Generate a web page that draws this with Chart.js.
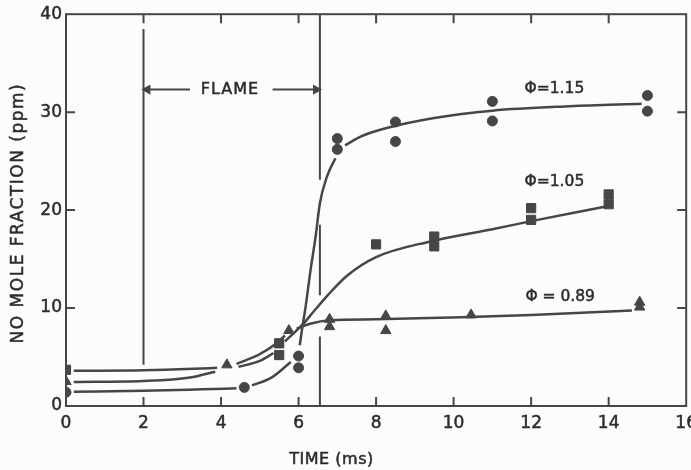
<!DOCTYPE html>
<html>
<head>
<meta charset="utf-8">
<script src="https://cdn.jsdelivr.net/npm/chart.js@4.4.1/dist/chart.umd.min.js"></script>
<style>
  html, body { margin: 0; padding: 0; background: #fcfcfb; overflow: hidden; }
  #wrap { width: 704px; height: 470px; }
</style>
</head>
<body>
<div id="wrap"><canvas id="chart"></canvas></div>
<script>
// ===== DATA =====

// measured points, phi = 1.15 / 1.05 / 0.89
const circleX = [0, 4.6, 6.0, 6.0, 7.0, 7.0, 8.5, 8.5, 11.0, 11.0, 15.0, 15.0];
const circleY = [1.4, 1.9, 5.1, 3.9, 27.3, 26.2, 29.0, 27.0, 31.1, 29.1, 31.7, 30.1];

const squareX = [0, 5.5, 5.5, 8.0, 9.5, 9.5, 12.0, 12.0, 14.0, 14.0];
const squareY = [3.7, 6.4, 5.2, 16.5, 17.3, 16.3, 20.2, 19.0, 21.6, 20.6];

const triangleX = [0, 4.15, 5.75, 6.8, 6.8, 8.25, 8.25, 10.45, 14.8, 14.8];
const triangleY = [2.5, 4.2, 7.7, 8.85, 8.1, 9.2, 7.7, 9.3, 10.6, 10.1];

// hand drawn curves (null = break round a marker)
const curve115X = [0.2, 2, 3.5, 4.4, 4.6, 4.8, 5.3, 5.8, 5.95, 6.03, 6.1, 6.18, 6.31, 6.44, 6.55, 6.73, 6.95, 7.05, 7.2, 7.6, 8.2, 9.5, 11, 13, 14.85];
const curve115Y = [1.45, 1.55, 1.7, 1.8, null, 2.1, 2.9, 4.5, null, 6.2, 8.1, 10.1, 13.9, 17.3, 20.7, 23.4, 25.3, null, 26.6, 27.5, 28.3, 29.4, 30.15, 30.6, 30.85];

const curve105X = [0.2, 2, 3.3, 3.9, 4.1, 4.45, 5.0, 5.35, 5.5, 5.65, 6.1, 6.4, 6.75, 7.25, 8.0, 9.4, 11, 12.1, 13.9];
const curve105Y = [3.6, 3.65, 3.8, 3.9, null, 4.0, 4.6, 5.4, null, 6.6, 8.3, 9.7, 11.3, 13.3, 15.2, 16.8, 18.05, 18.95, 20.35];

const curve089X = [0.2, 2, 3.2, 3.85, 4.1, 4.4, 5.0, 5.4, 5.65, 5.75, 5.95, 6.3, 6.8, 8.0, 10.2, 12, 14.6];
const curve089Y = [2.45, 2.55, 2.9, 3.5, null, 4.3, 5.3, 6.3, 7.2, null, 7.9, 8.4, 8.75, 8.85, 9.05, 9.3, 9.75];

// flame zone boundaries and arrow
const flameLeftX = [2, 2];
const flameLeftY = [4.2, 38.5];
const flameRightX = [6.55, 6.55, 6.55, 6.55, 6.55, 6.55, 6.55, 6.55];
const flameRightY = [40, 23.1, null, 18.5, 11.3, null, 7.1, 0];
const arrowX = [2.1, 3.2, 4.3, 5.33, 6.45];
const arrowY = [32.3, 32.3, null, 32.3, 32.3];

// text in the plot
const noteText = ["FLAME", "\u03A6=1.15", "\u03A6=1.05", "\u03A6 = 0.89"];
const noteX = [4.23, 12.6, 12.6, 12.75];
const noteY = [32.3, 32.35, 22.9, 11.15];

const xTitle = "TIME (ms)";
const yTitle = "NO MOLE FRACTION (ppm)";

// ===== STYLE =====

const ink = "#464646";
const textInk = "#2c2c2c";
const font = "'DejaVu Sans', sans-serif";

function pts(xs, ys) {
  return xs.map((x, i) => ({ x, y: ys[i] }));
}

function curve(xs, ys) {
  return {
    data: pts(xs, ys),
    showLine: true,
    borderColor: ink,
    borderWidth: 2.5,
    pointRadius: 0,
    cubicInterpolationMode: "monotone",
    spanGaps: false
  };
}

function straight(xs, ys) {
  return {
    data: pts(xs, ys),
    showLine: true,
    borderColor: ink,
    borderWidth: 2,
    pointRadius: 0,
    tension: 0,
    spanGaps: false
  };
}

function markers(xs, ys, style, radius) {
  return {
    data: pts(xs, ys),
    showLine: false,
    pointStyle: style,
    pointRadius: radius,
    pointBackgroundColor: ink,
    pointBorderColor: ink,
    pointBorderWidth: 1
  };
}

const arrow = straight(arrowX, arrowY);
arrow.pointStyle = "triangle";
arrow.pointRadius = [4, 0, 0, 0, 4];
arrow.pointRotation = [-90, 0, 0, 0, 90];
arrow.pointBackgroundColor = ink;
arrow.pointBorderColor = ink;

//
// ===== FRAME, INWARD TICKS, TEXT =====
//

function inkText(ctx, txt, x, y) {
  ctx.fillText(txt, x, y);
  ctx.strokeText(txt, x, y);
}

const paperPlugin = {
  id: "paper",
  beforeDraw(chart) {
    const { ctx, width, height } = chart;
    ctx.save();
    ctx.fillStyle = "#fcfcfb";
    ctx.fillRect(0, 0, width, height);
    ctx.restore();
  },
  afterDraw(chart) {
    const { ctx, chartArea: a, scales: { x, y } } = chart;
    ctx.save();

    ctx.strokeStyle = ink;
    ctx.lineWidth = 2;
    ctx.strokeRect(a.left, a.top, a.right - a.left, a.bottom - a.top);

    ctx.beginPath();
    x.ticks.forEach(t => {
      if (t.value <= x.min || t.value >= x.max) return;
      const px = x.getPixelForValue(t.value);
      ctx.moveTo(px, a.bottom); ctx.lineTo(px, a.bottom - 9);
      ctx.moveTo(px, a.top); ctx.lineTo(px, a.top + 9);
    });
    y.ticks.forEach(t => {
      if (t.value <= y.min || t.value >= y.max) return;
      const py = y.getPixelForValue(t.value);
      ctx.moveTo(a.left, py); ctx.lineTo(a.left + 9, py);
      ctx.moveTo(a.right, py); ctx.lineTo(a.right - 9, py);
    });
    ctx.stroke();

    ctx.fillStyle = textInk;
    ctx.strokeStyle = textInk;
    ctx.lineWidth = 0.5;
    ctx.textAlign = "center";
    ctx.textBaseline = "middle";

    noteText.forEach((txt, i) => {
      ctx.font = (i === 0 ? "16px " : "15.5px ") + font;
      ctx.letterSpacing = i === 0 ? "1px" : "0px";
      inkText(ctx, txt, x.getPixelForValue(noteX[i]), y.getPixelForValue(noteY[i]));
    });

    ctx.font = "16px " + font;
    ctx.letterSpacing = "0.5px";
    inkText(ctx, xTitle, x.getPixelForValue(6.85), a.bottom + 54);

    ctx.translate(19, (a.top + a.bottom) / 2 + 3);
    ctx.rotate(-Math.PI / 2);
    ctx.font = "17px " + font;
    ctx.letterSpacing = "1.5px";
    inkText(ctx, yTitle, 0, 0);

    ctx.restore();
  }
};

//
// ===== CHART =====
//

const tickFont = { family: font, size: 17 };

new Chart(document.getElementById("chart"), {
  type: "scatter",
  data: {
    datasets: [
      markers(circleX, circleY, "circle", 5),
      markers(squareX, squareY, "rect", 6.5),
      markers(triangleX, triangleY, "triangle", 6),
      curve(curve115X, curve115Y),
      curve(curve105X, curve105Y),
      curve(curve089X, curve089Y),
      straight(flameLeftX, flameLeftY),
      straight(flameRightX, flameRightY),
      arrow
    ]
  },
  options: {
    responsive: true,
    maintainAspectRatio: false,
    animation: false,
    layout: { padding: { top: 14, right: 12, left: 0, bottom: 0 } },
    plugins: {
      legend: { display: false },
      tooltip: { enabled: false }
    },
    scales: {
      x: {
        type: "linear",
        min: 0,
        max: 16,
        grid: { display: false, drawTicks: false },
        border: { display: false },
        ticks: {
          stepSize: 2,
          padding: 7,
          color: textInk,
          textStrokeColor: textInk,
          textStrokeWidth: 0.5,
          font: tickFont,
          maxRotation: 0
        },
        afterFit(scale) { scale.height = 64; }
      },
      y: {
        type: "linear",
        min: 0,
        max: 40,
        grid: { display: false, drawTicks: false },
        border: { display: false },
        ticks: {
          stepSize: 10,
          padding: 4,
          color: textInk,
          textStrokeColor: textInk,
          textStrokeWidth: 0.5,
          font: tickFont
        },
        afterFit(scale) { scale.width = 66; }
      }
    }
  },
  plugins: [paperPlugin]
});
</script>
</body>
</html>
